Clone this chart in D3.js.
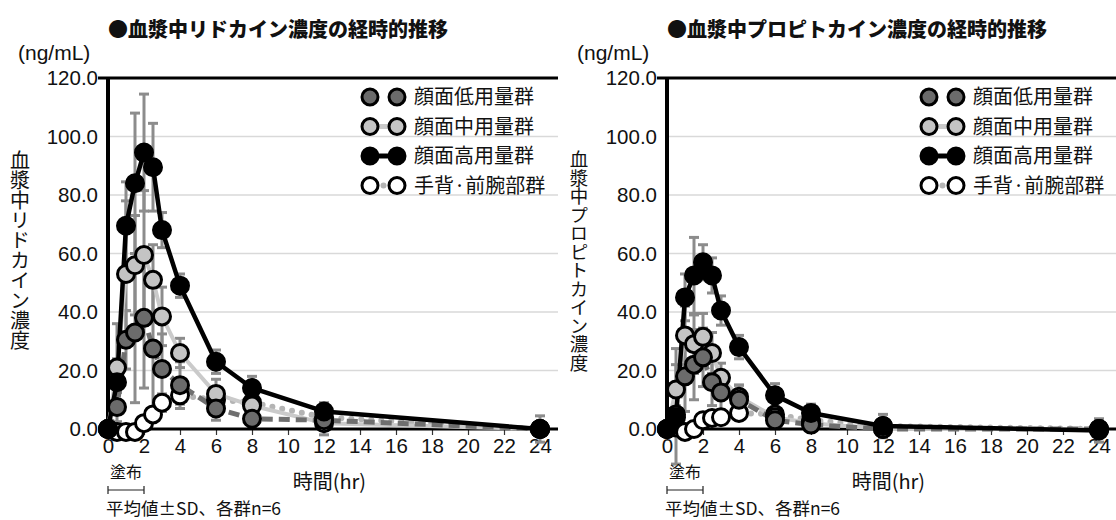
<!DOCTYPE html>
<html>
<head>
<meta charset="utf-8">
<script src="https://cdn.jsdelivr.net/npm/d3@7"></script>
<style>
  body { margin: 0; background: #fff; }
  text { font-family: "Liberation Sans", "Noto Sans CJK JP", sans-serif; fill: #111; }
  .jp { font-family: "Noto Sans CJK JP", sans-serif; }
</style>
</head>
<body>
<script>
// time points (hr)
const times = [0, 0.5, 1, 1.5, 2, 2.5, 3, 4, 6, 8, 12, 24];
const xTicks = [0, 2, 4, 6, 8, 10, 12, 14, 16, 18, 20, 22, 24];
const yTicks = [0, 20, 40, 60, 80, 100, 120];
const groupNames = ["顔面低用量群", "顔面中用量群", "顔面高用量群", "手背·前腕部群"];

// lidocaine (ng/mL)
const lidoLow    = [0, 7.5, 30.5, 33, 38, 27.5, 20.5, 15, 7, 3.5, 3, 0];
const lidoLowSD  = [0, 5, 10, 24, 24, 24, 12, 8, 4, 3, 5, 1];
const lidoMid    = [0, 21, 53, 56, 59.5, 51, 38.5, 26, 12, 8, 2, 0];
const lidoMidSD  = [0, 15, 25, 17, 22, 12, 10, 5, 5, 4, 2, 1];
const lidoHigh   = [0, 16, 69.5, 84, 94.5, 89.5, 68, 49, 23, 14, 6, 0];
const lidoHighSD = [0, 8, 15, 24, 20, 15, 6, 4, 4, 4, 3, 4.5];
const lidoHand   = [0, -1, -1, -1, 2, 5, 9, 11.5, 10, 9, 4, 0];
const lidoHandSD = [0, 0, 0, 0, 1, 2, 3, 3, 3, 3, 2, 1];

// prilocaine (ng/mL)
const priLow    = [0, 5, 18, 22, 24.5, 16, 12.5, 10, 3, 1.5, 0, 0];
const priLowSD  = [0, 17, 12, 12, 10, 8, 6, 5, 3, 2, 2, 1];
const priMid    = [0, 13.5, 32, 29, 31.5, 26, 17.5, 11, 4, 2, 0, 0];
const priMidSD  = [0, 14, 10, 10, 8, 7, 5, 4, 3, 2, 1, 1];
const priHigh   = [0, 4, 45, 52.5, 57, 52.5, 40.5, 28, 11.5, 5.5, 1, -0.5];
const priHighSD = [0, 3, 8, 13, 6, 6, 5, 4, 4, 3, 4, 4];
const priHand   = [0, 0.5, -1, 0, 3, 3.8, 4, 5.5, 5, 3, 1, 0];
const priHandSD = [0, 0, 0, 0, 1, 1, 1, 2, 2, 1, 1, 1];

const seriesStyle = [
  { fill: "#6b6b6b", line: "#6f6f6f", width: 5, dash: "11,6", cap: "butt" },
  { fill: "#c4c4c4", line: "#cacaca", width: 4, dash: null, cap: "butt" },
  { fill: "#000", line: "#000", width: 4.5, dash: null, cap: "butt" },
  { fill: "#fff", line: "#b4b4b4", width: 6, dash: "0,10", cap: "round" }
];

const svg = d3.select("body").append("svg")
  .attr("width", 1116).attr("height", 520);

function drawPanel(x0, right, title, ylabel, ylabelSize, vals, sds) {
  const x = d3.scaleLinear().domain([0, 24]).range([x0, x0 + 432]);
  const y = d3.scaleLinear().domain([0, 120]).range([429, 78]);
  const g = svg.append("g");

  // grid
  g.selectAll(".grid").data(yTicks.slice(1, -1)).enter().append("line")
    .attr("x1", x0).attr("x2", right)
    .attr("y1", d => y(d)).attr("y2", d => y(d))
    .attr("stroke", "#d9d9d9").attr("stroke-width", 1.5);

  // frame
  g.append("line").attr("x1", x0 - 10).attr("x2", right)
    .attr("y1", y(120)).attr("y2", y(120)).attr("stroke", "#000").attr("stroke-width", 3);
  g.append("line").attr("x1", x0).attr("x2", x0)
    .attr("y1", y(120)).attr("y2", y(0)).attr("stroke", "#000").attr("stroke-width", 4);

  // y labels
  const yAxis = d3.axisLeft(y).tickValues(yTicks).tickSize(0).tickPadding(10)
    .tickFormat(d3.format(".1f"));
  g.append("g").attr("transform", "translate(" + x0 + ",0)").call(yAxis)
    .call(a => a.select(".domain").remove())
    .selectAll("text").attr("font-size", 20.5).attr("fill", "#111")
    .style("font-family", "'Liberation Sans', sans-serif");

  // x axis
  const xAxis = d3.axisBottom(x).tickValues(xTicks).tickSize(6).tickPadding(3);
  const xa = g.append("g").attr("transform", "translate(0," + y(0) + ")").call(xAxis);
  xa.select(".domain").remove();
  xa.selectAll("line").attr("stroke", "#333").attr("stroke-width", 1.2);
  xa.selectAll("text").attr("font-size", 20.5).attr("fill", "#111")
    .style("font-family", "'Liberation Sans', sans-serif");

  // error bars
  const eb = g.append("g");
  vals.forEach((v, s) => {
    times.forEach((t, i) => {
      const sd = sds[s][i];
      if (!sd) return;
      const cx = x(t), top = y(v[i] + sd), bot = y(v[i] - sd);
      eb.append("line").attr("x1", cx).attr("x2", cx).attr("y1", top).attr("y2", bot)
        .attr("stroke", "#8c8c8c").attr("stroke-width", 3);
      [top, bot].forEach(yy => eb.append("line")
        .attr("x1", cx - 5).attr("x2", cx + 5).attr("y1", yy).attr("y2", yy)
        .attr("stroke", "#8c8c8c").attr("stroke-width", 3));
    });
  });

  // bottom axis line
  g.append("line").attr("x1", x0).attr("x2", right)
    .attr("y1", y(0)).attr("y2", y(0)).attr("stroke", "#000").attr("stroke-width", 3);

  const line = d3.line().x((d, i) => x(times[i])).y(d => y(d));
  const order = [3, 1, 0, 2];
  order.forEach(s => {
    const st = seriesStyle[s];
    g.append("path").datum(vals[s]).attr("d", line).attr("fill", "none")
      .attr("stroke", st.line).attr("stroke-width", st.width)
      .attr("stroke-dasharray", st.dash).attr("stroke-linecap", st.cap)
      .attr("stroke-linejoin", "round");
  });
  order.forEach(s => {
    g.selectAll(null).data(vals[s]).enter().append("circle")
      .attr("cx", (d, i) => x(times[i])).attr("cy", d => y(d)).attr("r", 8.5)
      .attr("fill", seriesStyle[s].fill).attr("stroke", "#000").attr("stroke-width", 3);
  });

  // legend
  const lg = g.append("g").attr("transform", "translate(" + (x0 + 262) + ",97)");
  groupNames.forEach((name, s) => {
    const st = seriesStyle[s];
    const row = lg.append("g").attr("transform", "translate(0," + s * 29.5 + ")");
    row.append("line").attr("x1", 0).attr("x2", 27).attr("y1", 0).attr("y2", 0)
      .attr("stroke", st.line).attr("stroke-width", s === 3 ? 6 : 5)
      .attr("stroke-dasharray", s === 3 ? "0,13.5" : (s === 0 ? "6,15,6" : null))
      .attr("stroke-linecap", st.cap);
    [0, 27].forEach(cx => row.append("circle").attr("cx", cx).attr("cy", 0).attr("r", 8)
      .attr("fill", st.fill).attr("stroke", "#000").attr("stroke-width", 3));
    row.append("text").attr("class", "jp").attr("x", 44).attr("y", 7)
      .attr("font-size", 20).text(name);
  });

  // titles and labels
  g.append("text").attr("class", "jp").attr("x", x0).attr("y", 37)
    .attr("font-size", 20).attr("font-weight", 900).text(title);
  g.append("text").attr("x", x0 - 90).attr("y", 60).attr("font-size", 21).text("(ng/mL)");

  g.append("text").attr("class", "jp").attr("font-size", ylabelSize)
    .attr("x", x0 - 88).attr("y", 150)
    .style("writing-mode", "vertical-rl")
    .text(ylabel);

  g.append("text").attr("class", "jp").attr("x", x(12.3)).attr("y", 489)
    .attr("text-anchor", "middle").attr("font-size", 20).text("時間(hr)");
  g.append("text").attr("class", "jp").attr("x", x(1)).attr("y", 478)
    .attr("text-anchor", "middle").attr("font-size", 16).text("塗布");
  g.append("path")
    .attr("d", "M" + x(0) + ",486v8M" + x(0) + ",490H" + x(2) + "M" + x(2) + ",486v8")
    .attr("stroke", "#222").attr("stroke-width", 1.2).attr("fill", "none");
  g.append("text").attr("class", "jp").attr("x", x0 - 2).attr("y", 515)
    .attr("font-size", 17.5).text("平均値±SD、各群n=6");
}

drawPanel(108, 558, "●血漿中リドカイン濃度の経時的推移", "血漿中リドカイン濃度", 20,
  [lidoLow, lidoMid, lidoHigh, lidoHand], [lidoLowSD, lidoMidSD, lidoHighSD, lidoHandSD]);
drawPanel(667, 1116, "●血漿中プロピトカイン濃度の経時的推移", "血漿中プロピトカイン濃度", 18.5,
  [priLow, priMid, priHigh, priHand], [priLowSD, priMidSD, priHighSD, priHandSD]);
</script>
</body>
</html>
